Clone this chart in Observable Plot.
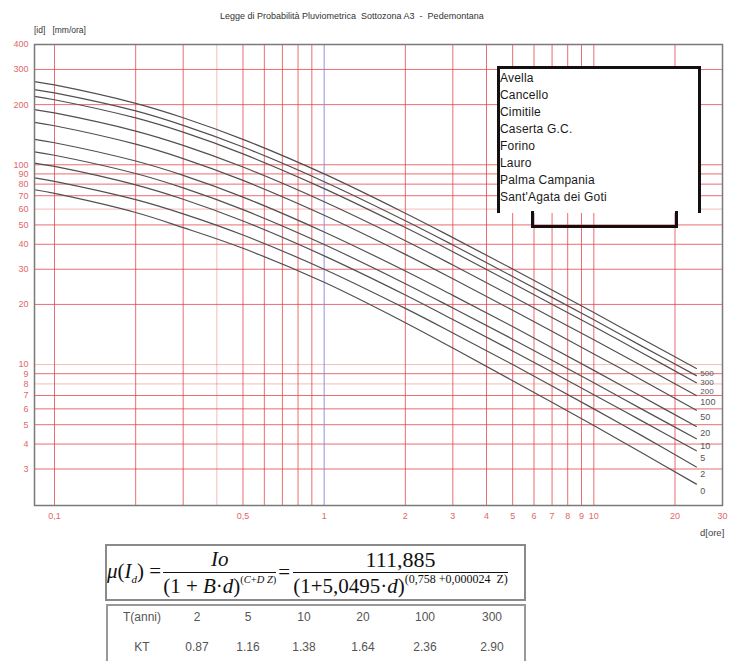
<!DOCTYPE html>
<html>
<head>
<meta charset="utf-8">
<script src="https://cdn.jsdelivr.net/npm/d3@7"></script>
<script src="https://cdn.jsdelivr.net/npm/@observablehq/plot@0.6"></script>
<style>
  body { margin:0; background:#fff; width:750px; height:661px; overflow:hidden; font-family:"Liberation Sans", Arial, sans-serif; }
  #page { position:relative; width:750px; height:661px; }
  #chart { position:absolute; left:0; top:0; }
  .abs { position:absolute; white-space:pre; }
  #legend { position:absolute; left:497px; top:66px; width:204px; height:147px; background:#fff; border:3px solid #111; border-bottom:none; box-sizing:border-box; }
  #legendTab { position:absolute; left:531px; top:211px; width:147px; height:17px; border:3px solid #111; border-top:none; box-sizing:border-box; }
  .leg { position:absolute; left:500px; font-size:12px; color:#1a1a1a; letter-spacing:0.2px; line-height:14px; }
  #formula { position:absolute; left:105px; top:544px; width:421px; height:57px; border:2px solid #8a8a8a; box-sizing:border-box;
    display:flex; align-items:center; padding-left:0px; font-family:"Liberation Serif","DejaVu Serif",serif; font-size:21px; color:#111; white-space:nowrap; overflow:hidden; }
  .frac { display:inline-flex; flex-direction:column; align-items:center; margin:0 2px; }
  .num { padding-bottom:1px; line-height:23px; }
  .den { border-top:1.5px solid #111; padding-top:1px; line-height:24px; }
  .den sup { font-size:10.5px; vertical-align:10px; line-height:0; }
  .den sup.big { font-size:12px; }
  #table { position:absolute; left:106px; top:604px; width:420px; height:70px; border:2px solid #999; box-sizing:border-box; }
  .cell { position:absolute; font-size:12px; color:#555; transform:translate(-50%,-50%); white-space:nowrap; }
</style>
</head>
<body>
<div id="page">
  <div id="chart"></div>
</div>
<script>
// ---------- data ----------
const durations = [0.0843, 0.1, 0.2, 0.3, 0.5, 1, 2, 3, 5, 10, 15, 24];   // d [ore]
const curveLabels = ["500", "300", "200", "100", "50", "20", "10", "5", "2", "0"];
const i500 = [261, 251, 203, 172, 134, 90, 57.2, 43.2, 30.1, 18.2, 13.5, 9.55];
const i300 = [238, 229, 186, 157.5, 122.7, 82.3, 52.5, 39.7, 27.6, 16.75, 12.4, 8.8];
const i200 = [220, 211.6, 171.6, 145.6, 113.4, 76, 48.5, 36.7, 25.5, 15.5, 11.5, 8.1];
const i100 = [189, 181.8, 147.5, 125.1, 97.4, 65.3, 41.7, 31.5, 21.9, 13.3, 9.9, 7.0];
const i50  = [163, 156.8, 126.8, 107.4, 83.5, 55.9, 35.6, 26.9, 18.7, 11.3, 8.4, 5.9];
const i20  = [134, 128.9, 104.4, 88.5, 68.9, 46.1, 29.4, 22.2, 15.5, 9.35, 6.94, 4.9];
const i10  = [116, 111.6, 90.4, 76.6, 59.6, 39.9, 25.4, 19.2, 13.4, 8.1, 6.0, 4.25];
const i5   = [102, 98.1, 79.3, 67.2, 52.3, 35.0, 22.3, 16.8, 11.7, 7.06, 5.24, 3.7];
const i2   = [86, 82.6, 66.9, 56.8, 44.5, 30.0, 19.1, 14.4, 10.0, 6.0, 4.42, 3.07];
const i0   = [75, 71.9, 57.7, 48.5, 38.2, 25.8, 16.2, 12.1, 8.3, 4.95, 3.63, 2.52];
const curveValues = [i500, i300, i200, i100, i50, i20, i10, i5, i2, i0];

const xTicks = [0.1, 0.5, 1, 2, 3, 4, 5, 6, 7, 8, 9, 10, 20, 30];
const xTickLabels = ["0,1", "0,5", "1", "2", "3", "4", "5", "6", "7", "8", "9", "10", "20", "30"];
const yTicks = [3, 4, 5, 6, 7, 8, 9, 10, 20, 30, 40, 50, 60, 70, 80, 90, 100, 200, 300, 400];
const xGridStrong = [0.1, 0.2, 0.3, 0.5, 0.6, 0.7, 0.8, 0.9, 2, 3, 4, 5, 6, 7, 8, 9, 10, 20];
const xGridFaint = [0.4];
const xGridBlue = [1];
const yGridStrong = [3, 4, 5, 6, 7, 9, 20, 30, 40, 50, 70, 80, 90, 100, 200, 300];
const yGridFaint = [8, 10, 60];

const stations = ["Avella", "Cancello", "Cimitile", "Caserta G.C.", "Forino", "Lauro", "Palma Campania", "Sant'Agata dei Goti"];
const tReturn = ["2", "5", "10", "20", "100", "300"];
const ktValues = ["0.87", "1.16", "1.38", "1.64", "2.36", "2.90"];

const titleText = "Legge di Probabilità Pluviometrica  Sottozona A3  -  Pedemontana";
const yUnitText = "[id]   [mm/ora]";
const xUnitText = "d[ore]";

// ---------- build ----------
const lineData = [];
curveLabels.forEach((lab, k) => durations.forEach((d, j) => lineData.push({T: lab, d, i: curveValues[k][j]})));
const last = durations.length - 1;
const endData = curveLabels.map((lab, k) => ({T: lab, k, d: durations[last], i: curveValues[k][last]}));

const xMin = 0.0843, yMin = 1.97;
const red = "#e23c44";
const tickRed = "#e06868";

const chart = Plot.plot({
  width: 750, height: 535,
  marginTop: 44, marginLeft: 34, marginRight: 28, marginBottom: 30,
  x: {type: "log", domain: [xMin, 30], axis: null},
  y: {type: "log", domain: [yMin, 400], axis: null},
  style: {background: "transparent", fontFamily: "Liberation Sans, Arial, sans-serif", overflow: "visible"},
  marks: [
    Plot.ruleY(yGridFaint, {y: d => d, stroke: red, strokeOpacity: 0.35, strokeWidth: 1}),
    Plot.ruleY(yGridStrong, {y: d => d, stroke: red, strokeOpacity: 0.75, strokeWidth: 1}),
    Plot.ruleX(xGridFaint, {x: d => d, stroke: red, strokeOpacity: 0.35, strokeWidth: 1}),
    Plot.ruleX(xGridStrong, {x: d => d, stroke: red, strokeOpacity: 0.75, strokeWidth: 1}),
    Plot.ruleX(xGridBlue, {x: d => d, stroke: "#8a86d8", strokeOpacity: 0.9, strokeWidth: 1}),
    Plot.line(lineData, {x: "d", y: "i", z: "T", stroke: "#505050", strokeWidth: 1.2, curve: "catmull-rom"}),
    Plot.text(endData.filter(e => e.k === 0), {x: "d", y: "i", text: "T", dx: 4, dy: 5, textAnchor: "start", fontSize: 8, fill: "#555"}),
    Plot.text(endData.filter(e => e.k === 1), {x: "d", y: "i", text: "T", dx: 4, dy: 7, textAnchor: "start", fontSize: 8, fill: "#555"}),
    Plot.text(endData.filter(e => e.k === 2), {x: "d", y: "i", text: "T", dx: 4, dy: 9, textAnchor: "start", fontSize: 8, fill: "#555"}),
    Plot.text(endData.filter(e => e.k > 2), {x: "d", y: "i", text: "T", dx: 4, dy: 7, textAnchor: "start", fontSize: 9, fill: "#555"}),
    Plot.text(xTicks, {x: d => d, y: () => yMin, text: (d, i) => xTickLabels[i], dy: 11, fontSize: 9, fill: tickRed}),
    Plot.text(yTicks, {x: () => xMin, y: d => d, text: d => String(d), dx: -6, textAnchor: "end", fontSize: 9, fill: tickRed}),
    Plot.frame({stroke: "#7a7a7a", strokeWidth: 1.5})
  ]
});
document.getElementById("chart").appendChild(chart);

const page = document.getElementById("page");
function addText(txt, left, top, css) {
  const el = document.createElement("div");
  el.className = "abs";
  el.textContent = txt;
  el.style.left = left + "px";
  el.style.top = top + "px";
  Object.assign(el.style, css || {});
  page.appendChild(el);
  return el;
}
addText(titleText, 220, 11, {fontSize: "9px", color: "#333"});
addText(yUnitText, 34, 25, {fontSize: "8.5px", color: "#333"});
addText(xUnitText, 700, 527, {fontSize: "9.5px", color: "#444"});

// legend
const legend = document.createElement("div"); legend.id = "legend"; page.appendChild(legend);
const legendTab = document.createElement("div"); legendTab.id = "legendTab"; page.appendChild(legendTab);
stations.forEach((s, k) => {
  const el = document.createElement("div");
  el.className = "leg";
  el.textContent = s;
  el.style.top = (71 + 17 * k) + "px";
  page.appendChild(el);
});

// formula
const formula = document.createElement("div");
formula.id = "formula";
formula.innerHTML =
  '<span><i>μ</i>(<i>I</i><sub style="font-size:11px"><i>d</i></sub>) =</span>' +
  '<span class="frac"><span class="num"><i>Io</i></span><span class="den">(1 + <i>B</i>·<i>d</i>)<sup>(<i>C</i>+<i>D Z</i>)</sup></span></span>' +
  '<span>=</span>' +
  '<span class="frac" style="margin-left:3px"><span class="num" style="font-size:22px">111,885</span><span class="den">(1+5,0495·<i>d</i>)<sup class="big">(0,758 +0,000024 &nbsp;Z)</sup></span></span>';
page.appendChild(formula);

// table
const table = document.createElement("div"); table.id = "table"; page.appendChild(table);
const colCenters = [36, 91, 142, 198, 257, 319, 386];
const rows = [["T(anni)"].concat(tReturn), ["KT"].concat(ktValues)];
rows.forEach((row, r) => row.forEach((txt, c) => {
  const el = document.createElement("div");
  el.className = "cell";
  el.textContent = txt;
  el.style.left = (106 + colCenters[c]) + "px";
  el.style.top = (617 + 30 * r) + "px";
  page.appendChild(el);
}));
</script>
</body>
</html>
